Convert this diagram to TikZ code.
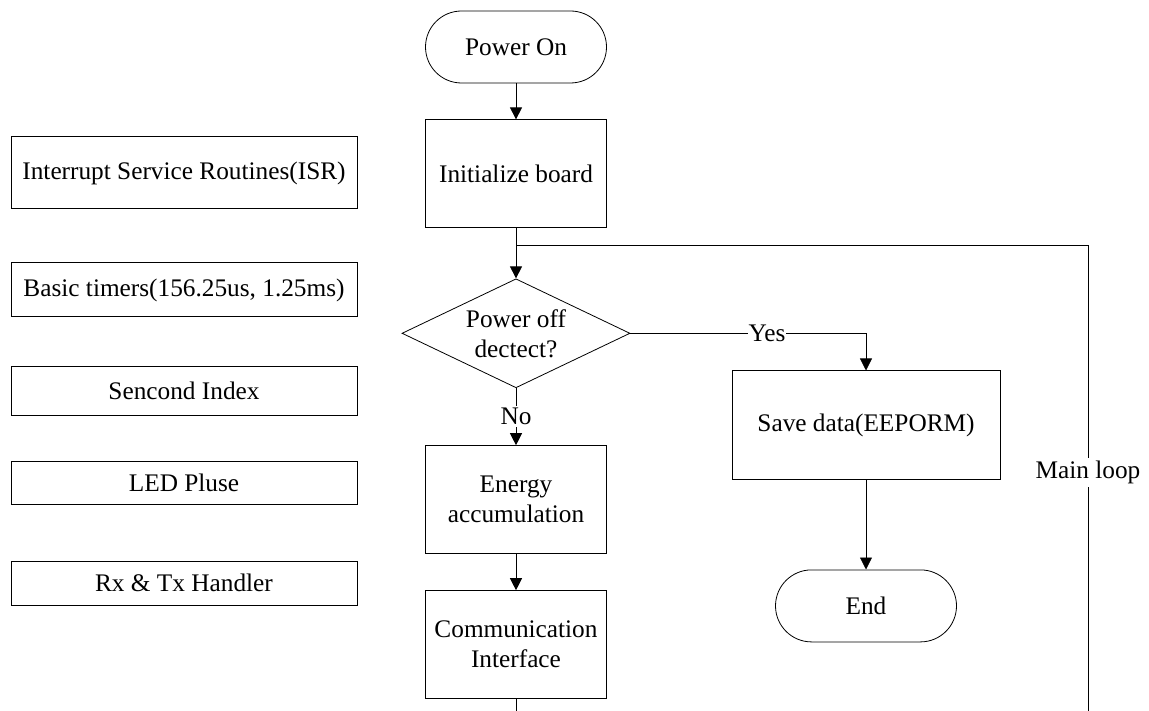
\documentclass[tikz,border=0pt]{standalone}
\usepackage{fontspec}
\setmainfont{Liberation Serif}
\usetikzlibrary{arrows.meta, positioning}
\usetikzlibrary{shapes.geometric}

\begin{document}
\begin{tikzpicture}[x=1pt, y=1pt, font=\fontsize{25.3}{30}\selectfont,
  procnode/.style={draw, line width=1pt, minimum width=181pt, minimum height=108pt, align=center, inner sep=2pt},
  termnode/.style={draw, line width=0.8pt, rounded corners=36pt, minimum width=181pt, minimum height=72pt, inner sep=2pt},
  decnode/.style={draw, diamond, line width=0.8pt, aspect=2.09, minimum width=228pt, minimum height=109pt, align=center, inner sep=1pt},
  isrnode/.style={draw, line width=1pt, minimum width=346pt, align=center, inner sep=2pt},
  flow/.style={line width=0.8pt, -{Triangle[length=12pt, width=12pt]}},
  ]

    \useasboundingbox (0,0) rectangle (1149,-711);

    % main flow
    \node[termnode] (start) at (516,-47) {Power On};
    \node[procnode, below=36pt of start] (init) {Initialize board};
    \node[decnode, below=50pt of init] (decide) {Power off\\dectect?};
    \node[procnode, below=57pt of decide] (energy) {Energy\\accumulation};
    \node[procnode, below=36pt of energy] (comm) {Communication\\Interface};

    \node[procnode, minimum width=268pt] (save) at (866,-425) {Save data(EEPORM)};
    \node[termnode, below=90pt of save] (stop) {End};

    % interrupt routines
    \node[isrnode, minimum height=72pt] (isr) at (184,-173) {Interrupt Service Routines(ISR)};
    \node[isrnode, minimum height=54pt] (timers) at (184,-290) {Basic timers(156.25us, 1.25ms)};
    \node[isrnode, minimum height=48pt] (secidx) at (184,-391) {Sencond Index};
    \node[isrnode, minimum height=43pt] (ledp) at (184,-483) {LED Pluse};
    \node[isrnode, minimum height=44pt] (rxtx) at (184,-583) {Rx \& Tx Handler};

    \coordinate (junction) at (516,-245);
    \coordinate (loopend) at (1088,-711);
    \coordinate (commend) at (516,-711);

    \draw[flow] (start) -- (init);
    \draw[flow] (init) -- (decide);
    \draw[flow] (decide) -- node[fill=white, inner sep=2pt]{No} (energy);
    \draw[flow] (decide.east) -| node[pos=0.29, fill=white, inner sep=1pt]{Yes} (save.north);
    \draw[flow] (save) -- (stop);
    \draw[flow] (energy) -- (comm);
    \draw[line width=0.8pt] (comm) -- (commend);

    % main loop back to the top
    \draw[line width=0.8pt] (loopend) |- node[pos=0.256, fill=white, inner sep=3pt]{Main loop} (junction);

\end{tikzpicture}
\end{document}
